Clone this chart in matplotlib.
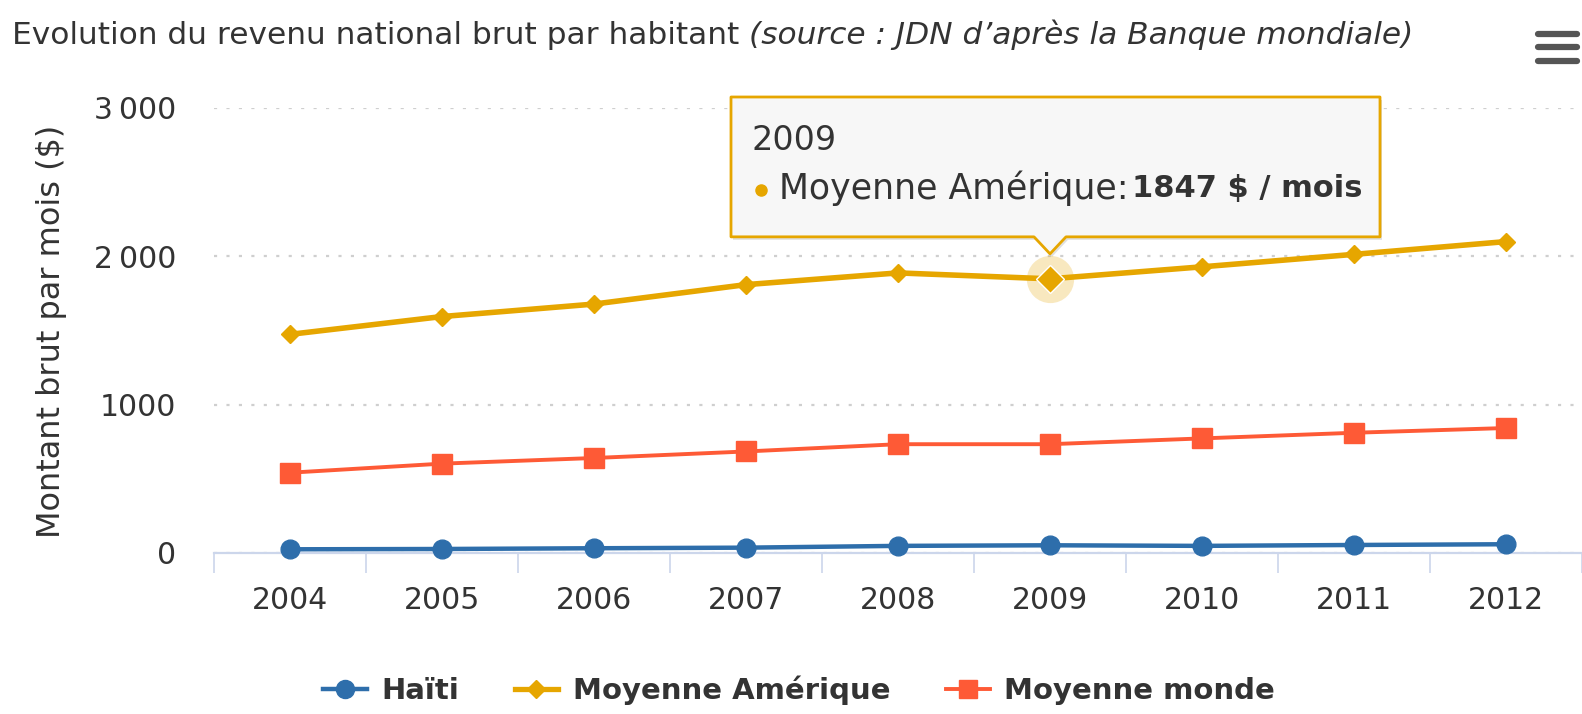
import matplotlib
matplotlib.use('Agg')
import matplotlib.pyplot as plt
from matplotlib.lines import Line2D
from matplotlib.patches import Polygon

W, H = 1582, 714

# data
years = ['2004', '2005', '2006', '2007', '2008', '2009', '2010', '2011', '2012']
haiti = [25, 27, 32, 36, 48, 52, 48, 54, 59]
amerique = [1473, 1593, 1677, 1808, 1887, 1847, 1928, 2012, 2098]
monde = [541, 602, 640, 684, 733, 733, 772, 810, 842]
yticks = [0, 1000, 2000, 3000]
ytick_labels = ['0', '1000', '2\u2009000', '3\u2009000']
hover_idx = 5

C_HAITI = '#2e6eab'
C_AMER = '#e6a600'
C_MONDE = '#fe5a36'
C_AXIS = '#ccd6eb'
C_TEXT = '#333333'

plt.rcParams['font.family'] = ['DejaVu Sans']

fig = plt.figure(figsize=(W / 100, H / 100), dpi=100)
fig.patch.set_facecolor('white')

ax = fig.add_axes([214 / W, 1 - 553 / H, (W - 214) / W, (553 - 107.7) / H])
x = list(range(len(years)))
ax.set_xlim(-0.5, len(years) - 0.5)
ax.set_ylim(0, 3000)

for s in ['top', 'right', 'left']:
    ax.spines[s].set_visible(False)
ax.spines['bottom'].set_color(C_AXIS)
ax.spines['bottom'].set_linewidth(1.6)
ax.spines['bottom'].set_zorder(1)

ax.set_xticks(x)
ax.set_xticklabels(years)
ax.set_xticks([i - 0.5 for i in range(len(years) + 1)], minor=True)
ax.tick_params(axis='x', which='major', length=0, pad=24, labelsize=21.5,
               labelcolor=C_TEXT)
ax.tick_params(axis='x', which='minor', length=14.5, width=1.2, color=C_AXIS)
ax.set_yticks(yticks)
ax.set_yticklabels(ytick_labels)
ax.tick_params(axis='y', length=0, pad=27, labelsize=21.5, labelcolor=C_TEXT)
ax.yaxis.grid(True, color='#cfcfcf', linewidth=1.6, linestyle=(0, (1.4, 4.2)))
ax.set_axisbelow(True)

ax.plot(x, haiti, color=C_HAITI, lw=3.2, marker='o', ms=13.5, clip_on=False,
        zorder=3)
ax.plot(x, amerique, color=C_AMER, lw=4.0, marker='D', ms=9.5, clip_on=False,
        zorder=3)
ax.plot(x, monde, color=C_MONDE, lw=2.8, marker='s', ms=14.5, clip_on=False,
        zorder=3)

# hovered point
ax.plot(x[hover_idx], amerique[hover_idx], 'o', ms=34, color=C_AMER,
        alpha=0.25, mec='none', zorder=4)
ax.plot(x[hover_idx], amerique[hover_idx], 'D', ms=14, color=C_AMER,
        mec='white', mew=1.0, zorder=5)

# y label
fig.text(52 / W, 1 - 331 / H, 'Montant brut par mois ($)', rotation=90,
         ha='center', va='center', fontsize=23, color=C_TEXT)

# title
t1 = fig.text(12 / W, 1 - 35 / H, 'Evolution du revenu national brut par habitant ',
              ha='left', va='center', fontsize=22.5, color=C_TEXT)
fig.canvas.draw()
r = fig.canvas.get_renderer()
bb = t1.get_window_extent(r)
fig.text(bb.x1 / W, 1 - 35 / H, '(source : JDN d\u2019apr\u00e8s la Banque mondiale)',
         ha='left', va='center', fontsize=22.5, style='italic', color=C_TEXT)

# legend
handles = [
    Line2D([], [], color=C_HAITI, lw=3.2, marker='o', ms=13),
    Line2D([], [], color=C_AMER, lw=3.8, marker='D', ms=9),
    Line2D([], [], color=C_MONDE, lw=2.8, marker='s', ms=13),
]
fig.legend(handles, ['Ha\u00efti', 'Moyenne Am\u00e9rique', 'Moyenne monde'],
           loc='center', bbox_to_anchor=(0.505, 1 - 690 / H), ncol=3,
           frameon=False, handlelength=1.5, handletextpad=0.5,
           columnspacing=1.9, prop={'size': 21, 'weight': 'bold'},
           labelcolor=C_TEXT)

# overlay in pixel coordinates for tooltip and menu icon
ov = fig.add_axes([0, 0, 1, 1])
ov.set_xlim(0, W)
ov.set_ylim(H, 0)
ov.axis('off')
ov.patch.set_alpha(0)

px, py = ax.transData.transform((x[hover_idx], amerique[hover_idx]))
py = H - py
tip_x, tip_y = px, py - 25
bot = tip_y - 17
top = 97
left, right = tip_x - 319, tip_x + 330
pts = [(left, top), (right, top), (right, bot), (tip_x + 16, bot),
       (tip_x, tip_y), (tip_x - 16, bot), (left, bot)]
shadow = Polygon([(a + 2, b + 3) for a, b in pts], closed=True,
                 facecolor='#000000', alpha=0.12, edgecolor='none', zorder=6)
ov.add_patch(shadow)
tip = Polygon(pts, closed=True, facecolor='#f7f7f7', edgecolor=C_AMER,
              linewidth=2, zorder=7, joinstyle='round')
ov.add_patch(tip)

ov.text(left + 21, 140, years[hover_idx], ha='left', va='center', fontsize=24,
        color=C_TEXT, zorder=8)
ov.plot(left + 30, 190, 'o', ms=8, color=C_AMER, zorder=8)
t2 = ov.text(left + 48, 188, 'Moyenne Am\u00e9rique:', ha='left', va='center',
             fontsize=25, color=C_TEXT, zorder=8)
fig.canvas.draw()
bb2 = t2.get_window_extent(fig.canvas.get_renderer())
ov.text(bb2.x1 + 3, 188, f'{amerique[hover_idx]} $ / mois', ha='left',
        va='center', fontsize=22, fontweight='bold', color=C_TEXT, zorder=8)

# hamburger menu
for yy in [34, 47, 61]:
    ov.plot([1538, 1577], [yy, yy], color='#555555', lw=4.5,
            solid_capstyle='round')

fig.savefig('out.png', dpi=100, facecolor='white')
